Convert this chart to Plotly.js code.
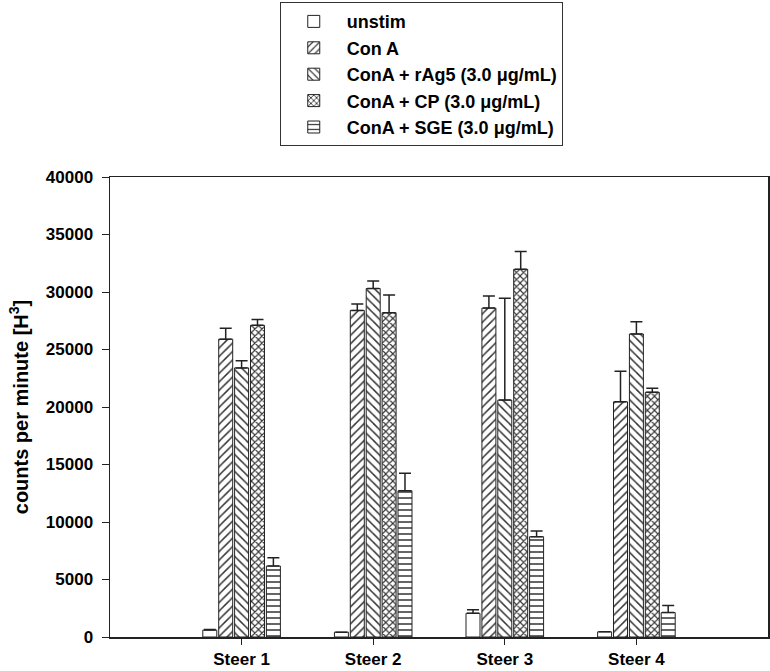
<!DOCTYPE html>
<html>
<head>
<meta charset="utf-8">
<script src="https://cdn.plot.ly/plotly-3.0.1.min.js"></script>
<style>html,body{margin:0;padding:0;background:#fff;}#chart{width:770px;height:671px;}</style>
</head>
<body>
<div id="chart"></div>
<script>
const categories = ["Steer 1", "Steer 2", "Steer 3", "Steer 4"];
const seriesNames = ["unstim", "Con A", "ConA + rAg5 (3.0 \u03bcg/mL)", "ConA + CP (3.0 \u03bcg/mL)", "ConA + SGE (3.0 \u03bcg/mL)"];
const unstim = [600, 420, 2060, 450];
const unstimErr = [60, 0, 300, 0];
const conA = [25900, 28400, 28600, 20450];
const conAErr = [950, 550, 1050, 2650];
const rAg5 = [23400, 30300, 20600, 26350];
const rAg5Err = [620, 650, 8850, 1070];
const cp = [27100, 28200, 31970, 21280];
const cpErr = [500, 1550, 1550, 340];
const sge = [6170, 12720, 8720, 2120];
const sgeErr = [730, 1510, 500, 630];
const yTicks = [0, 5000, 10000, 15000, 20000, 25000, 30000, 35000, 40000];

const values = [unstim, conA, rAg5, cp, sge];
const errs = [unstimErr, conAErr, rAg5Err, cpErr, sgeErr];
const shapes = ["", "/", "\\", "x", "-"];
const sizes = [6, 6, 6, 5, 6];
const solid = [0.25, 0.25, 0.25, 0.4, 0.25];
const font = "Arial, 'Liberation Sans', sans-serif";

const traces = values.map((v, i) => ({
  type: "bar",
  name: seriesNames[i],
  x: categories,
  y: v,
  marker: {
    color: "#ffffff",
    line: {color: "#222", width: 1},
    pattern: {shape: shapes[i], fgcolor: "#333", bgcolor: "#ffffff", size: sizes[i], solidity: solid[i]}
  },
  error_y: {type: "data", array: errs[i], arrayminus: errs[i].map(() => 0), symmetric: false, color: "#222", thickness: 1.5, width: 6}
}));

const layout = {
  width: 770, height: 671,
  margin: {l: 110, r: 2, t: 177, b: 34},
  paper_bgcolor: "#fff", plot_bgcolor: "#fff",
  barmode: "group", bargap: 0.396, bargroupgap: 0.12,
  font: {family: font, color: "#000", size: 14},
  showlegend: true,
  legend: {
    x: 0.258, xanchor: "left", y: 1.38, yanchor: "top",
    bordercolor: "#333", borderwidth: 1, bgcolor: "#fff",
    font: {family: font, size: 18, color: "#000", weight: "bold"},
    tracegroupgap: 0, itemwidth: 56
  },
  xaxis: {
    type: "category", range: [-1, 4],
    showline: true, linecolor: "#222", linewidth: 1.5, mirror: true,
    ticks: "outside", ticklen: 6, tickcolor: "#222",
    tickfont: {family: font, size: 17, weight: "bold"},
    showgrid: false, zeroline: false
  },
  yaxis: {
    range: [0, 40000], tickvals: yTicks, ticktext: yTicks.map(String),
    showline: true, linecolor: "#222", linewidth: 1.5, mirror: true,
    ticks: "outside", ticklen: 7, tickcolor: "#222", ticklabelstandoff: 5,
    tickfont: {family: font, size: 17, weight: "bold"},
    showgrid: false, zeroline: false,
    title: {text: "counts per minute [H<sup>3</sup>]", font: {family: font, size: 20, weight: "bold"}, standoff: 12}
  }
};

Plotly.newPlot("chart", traces, layout, {displayModeBar: false, staticPlot: true});
</script>
</body>
</html>
